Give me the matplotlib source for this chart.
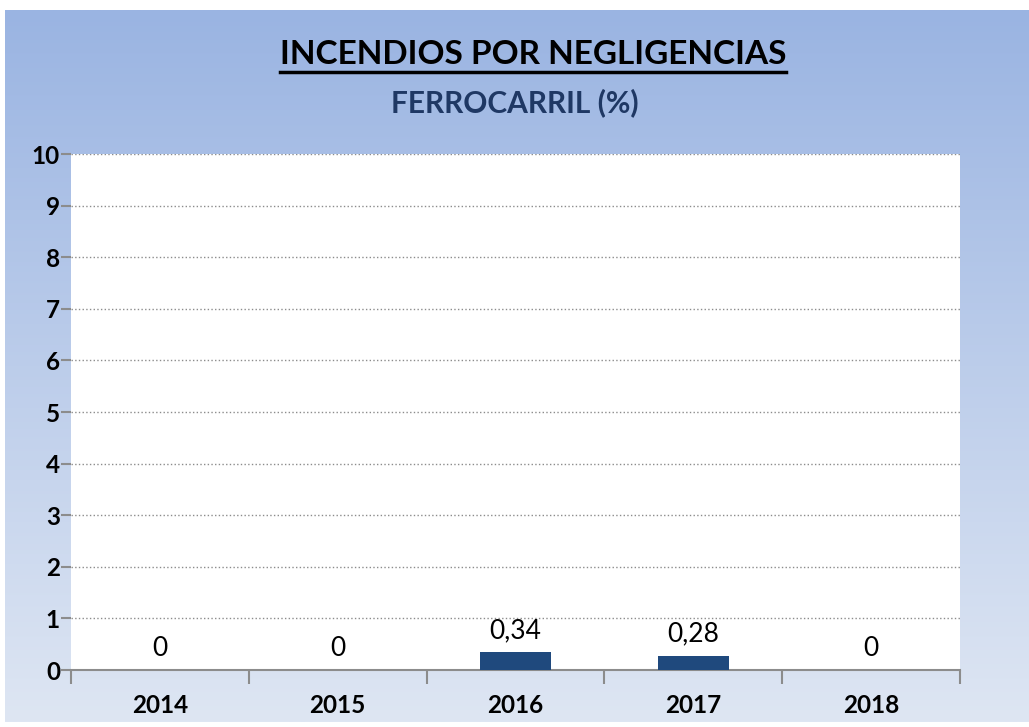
import numpy as np
import matplotlib.pyplot as plt
from matplotlib.colors import LinearSegmentedColormap

plt.rcParams['font.family'] = ['Lato', 'DejaVu Sans']

years = ['2014', '2015', '2016', '2017', '2018']
values = [0, 0, 0.34, 0.28, 0]
labels = ['0', '0', '0,34', '0,28', '0']
yticks = list(range(0, 11))

W, H = 1029, 727
fig = plt.figure(figsize=(W / 100, H / 100), dpi=100)
fig.patch.set_facecolor('white')

# gradient background panel
bg = fig.add_axes([5 / W, 5 / H, 1 - 5 / W, 1 - 15 / H])
grad = np.linspace(0, 1, 256).reshape(-1, 1)
cm = LinearSegmentedColormap.from_list('bg', ['#9ab4e2', '#dee6f3'])
bg.imshow(grad, aspect='auto', cmap=cm, extent=[0, 1, 0, 1], origin='upper')
bg.axis('off')

ax = fig.add_axes([71 / W, 1 - 670 / H, (960 - 71) / W, (670 - 154) / H])
ax.set_facecolor('white')
x = np.arange(len(years))
ax.bar(x, values, width=0.4, color='#1f497d', zorder=3)
for xi, v, lab in zip(x, values, labels):
    ax.annotate(lab, (xi, v), xytext=(0, 10), textcoords='offset points',
                ha='center', va='baseline', fontsize=19)

ax.set_xlim(-0.5, len(years) - 0.5)
ax.set_ylim(0, 10)
ax.set_yticks(yticks)
ax.set_yticklabels([str(t) for t in yticks], fontsize=17.5, fontweight='bold')
ax.yaxis.grid(True, linestyle=':', color='#8c8c8c', linewidth=1, zorder=0)
ax.set_xticks(np.arange(-0.5, len(years), 1))
ax.set_xticklabels([])
ax.set_xticks(x, minor=True)
ax.set_xticklabels(years, minor=True, fontsize=17.5, fontweight='bold')
ax.tick_params(axis='x', which='major', length=10, color='#8c8c8c', width=1.5)
ax.tick_params(axis='x', which='minor', length=0, pad=17)
ax.tick_params(axis='y', length=7, color='#8c8c8c', width=1.5, pad=1)
for s in ['top', 'right', 'left']:
    ax.spines[s].set_visible(False)
ax.spines['bottom'].set_color('#8c8c8c')
ax.spines['bottom'].set_linewidth(1.5)

title = fig.text(533 / W, 1 - 54 / H, 'INCENDIOS POR NEGLIGENCIAS', ha='center', va='center',
                 fontsize=24, fontweight='bold', color='black')
fig.text(515 / W, 1 - 103 / H, 'FERROCARRIL (%)', ha='center', va='center',
         fontsize=21.5, fontweight='bold', color='#1f3864')

# underline title
fig.canvas.draw()
bb = title.get_window_extent().transformed(fig.transFigure.inverted())
uy = 1 - 72 / H
fig.add_artist(plt.Line2D([bb.x0, bb.x1], [uy, uy], color='black', linewidth=2.5))

fig.savefig('out.png', dpi=100)
